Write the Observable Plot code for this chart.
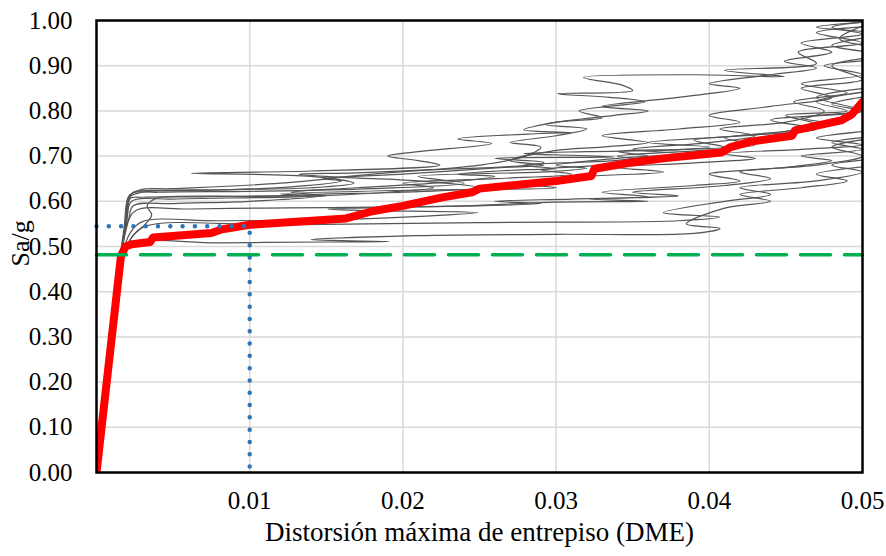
<!DOCTYPE html>
<html>
<head>
<meta charset="utf-8">
<script src="https://cdn.jsdelivr.net/npm/d3@7"></script>
<script src="https://cdn.jsdelivr.net/npm/@observablehq/plot@0.6"></script>
<style>
  html, body { margin: 0; padding: 0; background: #fff; }
  #chart svg { display: block; }
  #chart svg, #chart svg text { font-family: "Liberation Serif", "Times New Roman", serif !important; }
</style>
</head>
<body>
<div id="chart"></div>
<script>
// ---------- data ----------
const xTicks = [0.01, 0.02, 0.03, 0.04, 0.05];
const yTicks = [0, 0.1, 0.2, 0.3, 0.4, 0.5, 0.6, 0.7, 0.8, 0.9, 1.0];
const xTitle = "Distorsión máxima de entrepiso (DME)";
const yTitle = "Sa/g";

// drift values are given in thousandths (x 0.001), Sa/g as is
const medianCurve = [[0,0],[1.6,0.48],[1.9,0.50],[2.3,0.505],[3.5,0.51],[3.7,0.52],[7.5,0.53],[8.2,0.538],[10,0.548],[16.3,0.562],[18,0.578],[20,0.59],[22.5,0.608],[24.5,0.62],[25,0.628],[30,0.645],[32.3,0.656],[32.5,0.672],[35,0.686],[37,0.695],[40.8,0.708],[41.4,0.72],[42.7,0.732],[45.4,0.745],[45.6,0.757],[48.6,0.779],[49.3,0.792],[50,0.82]];

const record1 = [[0,0],[1.4,0.44],[1.8,0.53],[2.1,0.6],[2.4,0.62],[3.7,0.624],[9,0.626],[14,0.63],[16.8,0.64],[14,0.655],[6.2,0.662],[14,0.667],[22.4,0.68],[21,0.69],[19,0.7],[21,0.71],[25.8,0.728],[23.6,0.738],[29,0.75],[31,0.752],[27.9,0.758],[30.1,0.775],[33,0.785],[31.5,0.8],[35.8,0.82],[33.5,0.83],[30.1,0.838],[35,0.845],[34.4,0.856],[31.8,0.874],[39,0.88],[44.9,0.876],[41,0.89],[47,0.905],[45.8,0.93],[50,0.95],[47,0.973],[52,0.99]];
const record2 = [[0,0],[1.5,0.45],[1.9,0.55],[2.2,0.61],[3,0.62],[8,0.625],[12.7,0.632],[16,0.645],[14.8,0.65],[20,0.66],[26.6,0.675],[29.2,0.68],[27,0.69],[29.9,0.712],[33,0.72],[36,0.73],[33,0.745],[38,0.76],[42,0.775],[40,0.79],[44,0.81],[48,0.83],[46,0.85],[50,0.87],[48,0.9],[52,0.93],[48.5,0.96],[51,1.0]];
const record3 = [[0,0],[1.5,0.46],[2.0,0.56],[2.2,0.606],[3,0.609],[7,0.61],[12.7,0.613],[14.8,0.616],[20,0.62],[25,0.63],[21,0.645],[16,0.653],[13.2,0.66],[17,0.663],[22,0.67],[27.9,0.679],[29.2,0.686],[26,0.695],[33.8,0.698],[30,0.703],[27.9,0.706],[32,0.71],[38.2,0.714],[40,0.72],[36,0.73],[42,0.745],[47,0.76],[44,0.78],[50,0.8],[47,0.83],[53,0.86]];
const record4 = [[0,0],[1.6,0.46],[2.3,0.52],[3.2,0.55],[3.6,0.57],[3.3,0.59],[3.8,0.605],[4.5,0.61],[10,0.611],[15,0.612],[12,0.616],[21,0.625],[30,0.63],[27,0.64],[32,0.655],[37,0.665],[34,0.675],[39,0.685],[43,0.695],[41,0.705],[46,0.715],[50,0.725],[47,0.74],[52,0.76]];
const record5 = [[0,0],[1.6,0.47],[2.2,0.53],[3,0.555],[8,0.557],[16,0.56],[24.9,0.575],[17,0.58],[15.1,0.583],[24,0.59],[30,0.598],[36,0.6],[32.2,0.605],[38,0.612],[35,0.62],[41,0.635],[44,0.65],[42,0.665],[47,0.68],[50,0.7],[48,0.72],[53,0.75]];
const record6 = [[0,0],[1.6,0.47],[2.3,0.52],[3.2,0.545],[12,0.548],[25,0.553],[38,0.557],[40.7,0.565],[37,0.575],[41,0.6],[44,0.615],[42,0.63],[47,0.645],[50,0.665],[48,0.68],[53,0.7]];
const record7 = [[0,0],[1.7,0.47],[2.3,0.505],[8,0.508],[15,0.51],[19.1,0.511],[14,0.515],[20.9,0.524],[30,0.527],[39,0.529],[40.7,0.54],[38.5,0.55],[41,0.585],[44,0.6],[42,0.615],[46,0.63],[49,0.645],[47,0.66],[51,0.68]];
const record8 = [[0,0],[1.5,0.46],[2.0,0.55],[2.6,0.58],[6,0.583],[11,0.585],[15.1,0.586],[24.9,0.59],[29,0.595],[26,0.6],[31,0.605],[36,0.61],[33,0.62],[39,0.635],[42,0.645],[40,0.66],[45,0.675],[48,0.69],[46,0.7],[50,0.715],[48,0.73],[53,0.75]];
const record9 = [[0,0],[1.5,0.46],[2.1,0.56],[2.4,0.59],[5,0.595],[10,0.6],[14.8,0.613],[12.7,0.62],[17,0.63],[22,0.64],[26,0.655],[23.6,0.66],[28,0.67],[30,0.672],[27.9,0.68],[33.8,0.69],[36,0.7],[34,0.71],[38.2,0.715],[41,0.72],[39,0.735],[44,0.75],[47,0.77],[45,0.79],[49,0.8],[47,0.82],[52,0.85]];
const record10 = [[0,0],[1.5,0.45],[1.9,0.55],[2.2,0.615],[4,0.62],[10,0.622],[18,0.628],[24,0.64],[21,0.655],[29.2,0.665],[32,0.673],[30,0.68],[34,0.695],[38,0.705],[35,0.715],[40,0.73],[43,0.745],[40.7,0.76],[45,0.775],[47.5,0.8],[45.5,0.82],[49,0.84],[46,0.86],[50,0.88],[47.5,0.9],[52,0.92],[48,0.945],[51,0.97],[47,0.985],[52,1.0]];
const record11 = [[0,0],[1.5,0.46],[2.0,0.57],[2.3,0.6],[5,0.605],[13,0.61],[19,0.62],[22,0.63],[20,0.64],[26,0.65],[31,0.66],[29,0.67],[33,0.68],[36,0.69],[34,0.7],[39.3,0.712],[43,0.725],[41,0.74],[45,0.755],[48,0.77],[46,0.785],[50,0.8],[48,0.815],[52,0.84]];
const record12 = [[0,0],[1.4,0.44],[1.8,0.54],[2.1,0.61],[2.8,0.625],[5,0.628],[12,0.64],[18,0.66],[25,0.68],[28,0.7],[29,0.72],[27,0.73],[30,0.745],[32,0.76],[29.3,0.77],[33.8,0.79],[36,0.8],[33,0.81],[38,0.83],[42,0.85],[40,0.86],[44,0.88],[47,0.895],[44.9,0.91],[48,0.93],[46,0.95],[50,0.97],[48,0.985],[51,1.0]];

const greenLevel = 0.482;     // horizontal dashed reference
const targetDrift = 0.01;     // blue dotted vertical
const targetSa = 0.545;       // blue dotted horizontal

// ---------- build tables ----------
const records = [record1, record2, record3, record4, record5, record6, record7, record8, record9, record10, record11, record12];
const grayRows = records.flatMap((r, i) => r.map(([x, y]) => ({id: i, x: x / 1000, y})));
const medianRows = medianCurve.map(([x, y]) => ({x: x / 1000, y}));
const greenRows = [{x: 0, y: greenLevel}, {x: xTicks[xTicks.length - 1], y: greenLevel}];
const blueRows = [{x: 0, y: targetSa}, {x: targetDrift, y: targetSa}, {x: targetDrift, y: 0}];

const fmt = d3.format(".2f");

const chart = Plot.plot({
  width: 886,
  height: 556,
  marginLeft: 96,
  marginRight: 24,
  marginTop: 20,
  marginBottom: 84,
  style: {fontFamily: "Liberation Serif, serif", fontSize: "25px", color: "#000", background: "#fff"},
  x: {domain: [0, 0.05]},
  y: {domain: [0, 1]},
  marks: [
    Plot.gridY(yTicks.slice(1), {stroke: "#d9d9d9", strokeOpacity: 1, strokeWidth: 1.5}),
    Plot.gridX(xTicks.slice(0, 4), {stroke: "#d9d9d9", strokeOpacity: 1, strokeWidth: 1.5}),
    Plot.line(grayRows, {x: "x", y: "y", z: "id", curve: "catmull-rom", stroke: "#555", strokeWidth: 1.2, clip: true}),
    Plot.line(medianRows, {x: "x", y: "y", stroke: "#ff0000", strokeWidth: 8, strokeLinejoin: "round", strokeLinecap: "round", clip: true}),
    Plot.line(greenRows, {x: "x", y: "y", stroke: "#00b050", strokeWidth: 3.5, strokeDasharray: "30,14", strokeLinecap: "round"}),
    Plot.line(blueRows, {x: "x", y: "y", stroke: "#2e75b6", strokeWidth: 4.5, strokeDasharray: "0,12.3", strokeLinecap: "round"}),
    Plot.frame({stroke: "#000", strokeWidth: 2.5}),
    Plot.axisX(xTicks, {tickSize: 0, tickPadding: 19, tickFormat: fmt, label: null}),
    Plot.axisY(yTicks, {tickSize: 0, tickPadding: 24, tickFormat: fmt, label: null}),
    Plot.text([xTitle], {frameAnchor: "bottom", dy: 68, fontSize: 27, fill: "#000"}),
    Plot.text([yTitle], {frameAnchor: "left", dx: -76, dy: 20, rotate: -90, fontSize: 26, fill: "#000"})
  ]
});
document.getElementById("chart").appendChild(chart);
</script>
</body>
</html>
